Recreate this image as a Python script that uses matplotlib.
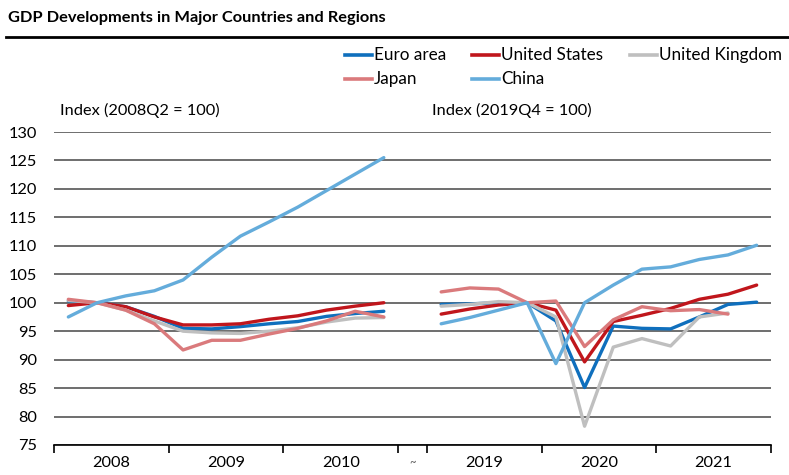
import numpy as np
import matplotlib
matplotlib.use("Agg")
import matplotlib.pyplot as plt
from matplotlib.lines import Line2D

plt.rcParams['font.family'] = ['Lato', 'DejaVu Sans']

# quarterly index values, 2008Q1-2010Q4 (2008Q2 = 100)
euro_0810 = [100.3, 100.0, 99.3, 97.6, 95.5, 95.4, 95.8, 96.3, 96.7, 97.6, 98.1, 98.5]
us_0810 = [99.5, 100.0, 99.3, 97.5, 96.1, 96.1, 96.3, 97.1, 97.7, 98.7, 99.4, 100.0]
uk_0810 = [100.4, 100.0, 98.7, 96.8, 95.0, 94.7, 94.6, 95.0, 95.6, 96.6, 97.3, 97.4]
japan_0810 = [100.6, 100.0, 98.7, 96.3, 91.7, 93.4, 93.4, 94.5, 95.5, 96.8, 98.5, 97.5]
china_0810 = [97.5, 100.0, 101.2, 102.1, 104.0, 108.0, 111.7, 114.2, 116.8, 119.7, 122.6, 125.5]

# quarterly index values, 2019Q1-2021Q4 (2019Q4 = 100)
euro_1921 = [99.7, 99.8, 100.0, 100.0, 96.8, 85.1, 95.9, 95.5, 95.4, 97.5, 99.7, 100.1]
us_1921 = [98.0, 98.9, 99.6, 100.0, 98.7, 89.6, 96.7, 97.8, 99.0, 100.6, 101.5, 103.1]
uk_1921 = [99.4, 99.7, 100.2, 100.0, 97.5, 78.3, 92.2, 93.7, 92.4, 97.5, 98.2, None]
japan_1921 = [101.9, 102.6, 102.4, 100.0, 100.3, 92.3, 97.0, 99.3, 98.6, 98.8, 98.0, None]
china_1921 = [96.3, 97.4, 98.7, 100.0, 89.3, 100.0, 103.1, 105.9, 106.3, 107.6, 108.4, 110.1]

years_left = ['2008', '2009', '2010']
years_right = ['2019', '2020', '2021']

names = ['Euro area', 'United States', 'United Kingdom', 'Japan', 'China']
colors = ['#0f6fbd', '#c0161c', '#bfbfbf', '#da7a7c', '#64acdb']

left = [euro_0810, us_0810, uk_0810, japan_0810, china_0810]
right = [euro_1921, us_1921, uk_1921, japan_1921, china_1921]

W, H = 789, 475
fig = plt.figure(figsize=(7.89, 4.75), dpi=100)
ax = fig.add_axes([54 / W, 30 / H, 717 / W, 313 / H])

x_left = np.arange(12)
x_right = np.arange(13, 25)
for vals_l, vals_r, c in zip(left, right, colors):
    ax.plot(x_left, vals_l, color=c, lw=2.4, solid_capstyle='round', zorder=3)
    yr = np.array([np.nan if v is None else v for v in vals_r], dtype=float)
    ax.plot(x_right, yr, color=c, lw=2.4, solid_capstyle='round', zorder=3)

fs = 11.8
ax.set_xlim(-0.5, 24.5)
ax.set_ylim(75, 130)
ax.set_yticks(np.arange(75, 131, 5))
ax.tick_params(axis='y', length=0, pad=12.5, labelsize=fs)
ax.yaxis.grid(True, color='#555555', lw=1.2, zorder=1)
for s in ['left', 'right', 'top']:
    ax.spines[s].set_visible(False)
ax.spines['bottom'].set_color('black')
ax.spines['bottom'].set_linewidth(1.2)

ax.set_xticks([-0.5, 3.5, 7.5, 11.5, 12.5, 16.5, 20.5, 24.5], minor=True)
ax.tick_params(axis='x', which='minor', length=6, width=1.2, color='black', direction='out')
ax.set_xticks([1.5, 5.5, 9.5, 12, 14.5, 18.5, 22.5])
ax.set_xticklabels(years_left + ['~'] + years_right)
ax.tick_params(axis='x', which='major', length=0, pad=8, labelsize=fs)
for lbl in ax.get_xticklabels():
    if lbl.get_text() == '~':
        lbl.set_fontsize(8)
        lbl.set_color('#555555')

fig.text(8 / W, 1 - 18 / H, 'GDP Developments in Major Countries and Regions',
         fontsize=11.8, fontweight='bold', va='center', ha='left')
fig.add_artist(Line2D([6 / W, 1], [1 - 37 / H, 1 - 37 / H], color='black', lw=2))

fig.text(60 / W, 1 - 110 / H, 'Index (2008Q2 = 100)', fontsize=fs, va='center', ha='left')
fig.text(432 / W, 1 - 110 / H, 'Index (2019Q4 = 100)', fontsize=fs, va='center', ha='left')

# legend drawn by hand to keep the Excel-style column positions
leg_pos = [(345, 55), (472, 55), (630, 55), (345, 79), (472, 79)]
for name, c, (lx, ly) in zip(names, colors, leg_pos):
    fig.add_artist(Line2D([lx / W, (lx + 27) / W], [1 - ly / H, 1 - ly / H],
                          color=c, lw=2.6))
    fig.text((lx + 29) / W, 1 - ly / H, name, fontsize=12.3, va='center', ha='left')

fig.savefig('out.png', dpi=100)
